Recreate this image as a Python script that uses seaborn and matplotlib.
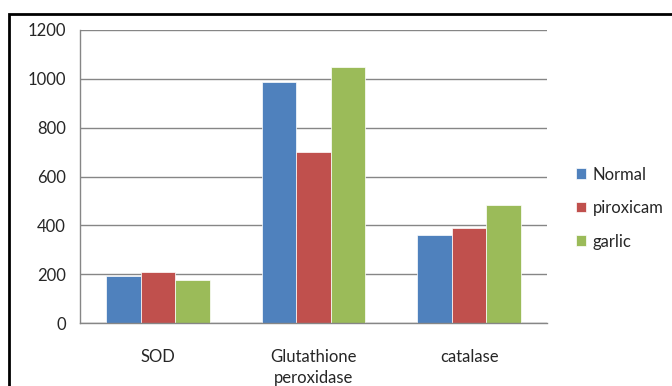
import matplotlib
matplotlib.use('Agg')
import matplotlib.pyplot as plt
import matplotlib.patches as mpatches
import seaborn as sns
import pandas as pd

# 데이터
enzymes = ['SOD', 'Glutathione\nperoxidase', 'catalase']
groups = ['Normal', 'piroxicam', 'garlic']
normal = [192, 988, 360]
piroxicam = [209, 701, 389]
garlic = [176, 1048, 483]
colors = ['#4F81BD', '#C0504D', '#9BBB59']

rows = []
for i, e in enumerate(enzymes):
    for g, vals in zip(groups, [normal, piroxicam, garlic]):
        rows.append({'enzyme': e, 'group': g, 'value': vals[i]})
df = pd.DataFrame(rows)

sns.set_style('white')
plt.rcParams['font.family'] = ['Lato', 'DejaVu Sans']

fig = plt.figure(figsize=(6.72, 3.86), dpi=100)
W, H = 672, 386
ax = fig.add_axes([80 / W, 1 - 323 / H, (547 - 80) / W, (323 - 30) / H])

sns.barplot(data=df, x='enzyme', y='value', hue='group', palette=colors,
            width=0.667, gap=0, saturation=1, linewidth=0.5, edgecolor='white',
            ax=ax, legend=True)

ax.set_xlim(-0.5, 2.5)
ax.set_ylim(0, 1200)
ax.set_yticks(range(0, 1201, 200))
ax.set_xlabel('')
ax.set_ylabel('')

grid_c = '#868686'
ax.yaxis.grid(True, color=grid_c, linewidth=1)
ax.set_axisbelow(True)
for s in ['top', 'right']:
    ax.spines[s].set_visible(False)
for s in ['left', 'bottom']:
    ax.spines[s].set_color(grid_c)
    ax.spines[s].set_linewidth(1)

fs = 12
ax.tick_params(axis='y', length=5, color=grid_c, width=1, labelsize=fs, pad=5)
ax.tick_params(axis='x', which='major', length=0, labelsize=fs, pad=19)
ax.set_xticks([-0.5, 0.5, 1.5, 2.5], minor=True)
ax.tick_params(axis='x', which='minor', length=5, color=grid_c, width=1)
for lab in ax.get_xticklabels():
    lab.set_linespacing(1.35)

handles, labels = ax.get_legend_handles_labels()
ax.legend(handles, labels, loc='center left', bbox_to_anchor=(576 / W, 1 - 208 / H),
          bbox_transform=fig.transFigure, frameon=False, fontsize=fs, borderpad=0,
          borderaxespad=0, handlelength=0.6, handleheight=0.6, handletextpad=0.4,
          labelspacing=1.05)

# 바깥 테두리
fig.patches.append(mpatches.Rectangle((9 / W, -0.1), 1.2, 1 - 14 / H + 0.1,
                                      transform=fig.transFigure, fill=False,
                                      edgecolor='black', linewidth=2))

fig.savefig('out.png', dpi=100)
